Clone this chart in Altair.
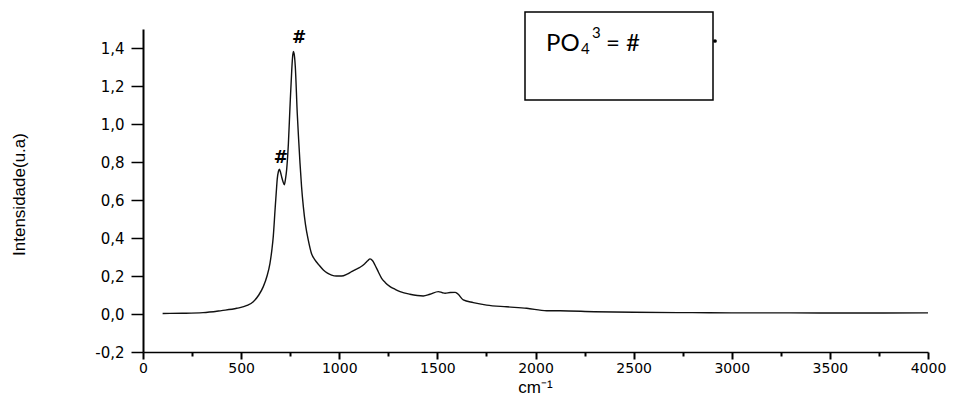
import altair as alt
import pandas as pd

# Raman spectrum
wavenumber = [100, 200, 306, 400, 478, 530, 562, 590, 613, 632, 647, 657, 664, 673,
              679, 684, 690, 695, 701, 707, 714, 720, 726, 732, 741, 749, 758, 762,
              766, 770, 776, 786, 793, 800, 808, 817, 828, 842, 858, 876, 895, 919,
              940, 961, 985, 1012, 1040, 1063, 1085, 1106, 1130, 1145, 1157, 1170,
              1182, 1200, 1216, 1235, 1259, 1285, 1310, 1360, 1428, 1462, 1505, 1525,
              1539, 1565, 1590, 1605, 1632, 1683, 1751, 1853, 1955, 2057, 2125, 2300,
              2500, 2800, 3000, 3300, 3600, 4000]
intensity = [0.003, 0.004, 0.007, 0.018, 0.030, 0.045, 0.065, 0.100, 0.144, 0.200,
             0.267, 0.340, 0.410, 0.550, 0.640, 0.710, 0.750, 0.762, 0.745, 0.720,
             0.695, 0.680, 0.710, 0.760, 0.900, 1.090, 1.285, 1.350, 1.382, 1.370,
             1.303, 1.057, 0.920, 0.794, 0.670, 0.565, 0.470, 0.390, 0.320, 0.285,
             0.260, 0.232, 0.215, 0.205, 0.200, 0.200, 0.210, 0.223, 0.235, 0.246,
             0.265, 0.280, 0.290, 0.280, 0.258, 0.220, 0.188, 0.165, 0.144, 0.130,
             0.118, 0.104, 0.095, 0.104, 0.118, 0.112, 0.109, 0.113, 0.114, 0.105,
             0.074, 0.060, 0.047, 0.038, 0.030, 0.017, 0.017, 0.012, 0.009, 0.007,
             0.006, 0.006, 0.005, 0.006]

# peak markers "#"
mark_x = [795, 703]
mark_y = [1.454, 0.822]
mark_text = ["#", "#"]

y_ticks = [round(-0.2 + 0.1 * i, 1) for i in range(17)]
x_ticks = list(range(0, 4001, 250))

spec = pd.DataFrame({"wn": wavenumber, "val": intensity})
marks = pd.DataFrame({"wn": mark_x, "val": mark_y, "t": mark_text})
one = pd.DataFrame({"k": [0]})

MINUS = "\u2212"

y_axis = alt.Axis(
    values=y_ticks,
    labelExpr=("round(datum.value*10) % 2 != 0 ? '' : "
               "replace(replace(format(datum.value, '.1f'), '.', ','), '" + MINUS + "', '-')"),
    tickSize={"condition": {"test": "round(datum.value*10) % 2 != 0", "value": 7}, "value": 12},
    tickWidth=1.5,
    tickColor="black",
    domainColor="black",
    domainWidth=2,
    grid=False,
    labelFont="DejaVu Sans",
    labelFontSize=15,
    labelColor="black",
    labelPadding=7,
    labelOverlap=False,
    title="Intensidade(u.a)",
    titleFont="Liberation Sans",
    titleFontSize=17,
    titleFontWeight="normal",
    titleColor="black",
    titleAngle=270,
    titleX=-124,
    titleY=165,
    titleAlign="center",
    titleBaseline="middle",
)

x_axis = alt.Axis(
    values=x_ticks,
    labelExpr="datum.value % 500 != 0 ? '' : format(datum.value, 'd')",
    tickSize={"condition": {"test": "datum.value % 500 != 0", "value": 4}, "value": 7},
    tickWidth=2,
    tickColor="black",
    domainColor="black",
    domainWidth=1.5,
    grid=False,
    labelFont="DejaVu Sans",
    labelFontSize=14,
    labelColor="black",
    labelPadding=2,
    labelFlush=False,
    labelOverlap=False,
    title="cm\u207b\u00b9",
    titleFont="Liberation Sans",
    titleFontSize=17,
    titleFontWeight="normal",
    titleColor="black",
    titleX=392,
    titleY=44,
    titleAlign="center",
    titleBaseline="bottom",
)

xs = alt.Scale(domain=[0, 4000], nice=False, zero=False)
ys = alt.Scale(domain=[-0.2, 1.5], nice=False, zero=False)

line = alt.Chart(spec).mark_line(color="#111111", strokeWidth=1.4, interpolate="monotone").encode(
    x=alt.X("wn:Q", scale=xs, axis=x_axis),
    y=alt.Y("val:Q", scale=ys, axis=y_axis),
    order="wn:Q",
)

hashes = alt.Chart(marks).mark_text(
    font="DejaVu Sans", fontSize=17, fontWeight="bold", color="black",
    align="center", baseline="middle",
).encode(x="wn:Q", y="val:Q", text="t:N")

box = alt.Chart(one).mark_rect(fill="white", stroke="black", strokeWidth=1.5).encode(
    x=alt.value(382), x2=alt.value(570), y=alt.value(-17), y2=alt.value(71)
)

lab_font = "Lato"
t_po = alt.Chart(one).mark_text(font=lab_font, fontSize=24, align="left",
                                baseline="alphabetic", color="black").encode(
    x=alt.value(403), y=alt.value(22), text=alt.value("PO"))
t_sub = alt.Chart(one).mark_text(font=lab_font, fontSize=15, align="left",
                                 baseline="alphabetic", color="black").encode(
    x=alt.value(438), y=alt.value(25), text=alt.value("4"))
t_sup = alt.Chart(one).mark_text(font=lab_font, fontSize=15, align="left",
                                 baseline="alphabetic", color="black").encode(
    x=alt.value(449), y=alt.value(9), text=alt.value("3"))
t_eq = alt.Chart(one).mark_text(font=lab_font, fontSize=24, align="left",
                                baseline="alphabetic", color="black").encode(
    x=alt.value(463), y=alt.value(22), text=alt.value("= #"))
dot = alt.Chart(one).mark_point(filled=True, color="black", size=14, opacity=1).encode(
    x=alt.value(572), y=alt.value(12))

chart = alt.layer(line, hashes, box, t_po, t_sub, t_sup, t_eq, dot).properties(
    width=785,
    height=323,
    padding={"left": 135, "top": 21, "right": 22, "bottom": 45},
    autosize=alt.AutoSizeParams(type="none"),
    background="white",
).configure_view(stroke=None)

chart.save("out.html", embed_options={"renderer": "svg", "actions": False})
